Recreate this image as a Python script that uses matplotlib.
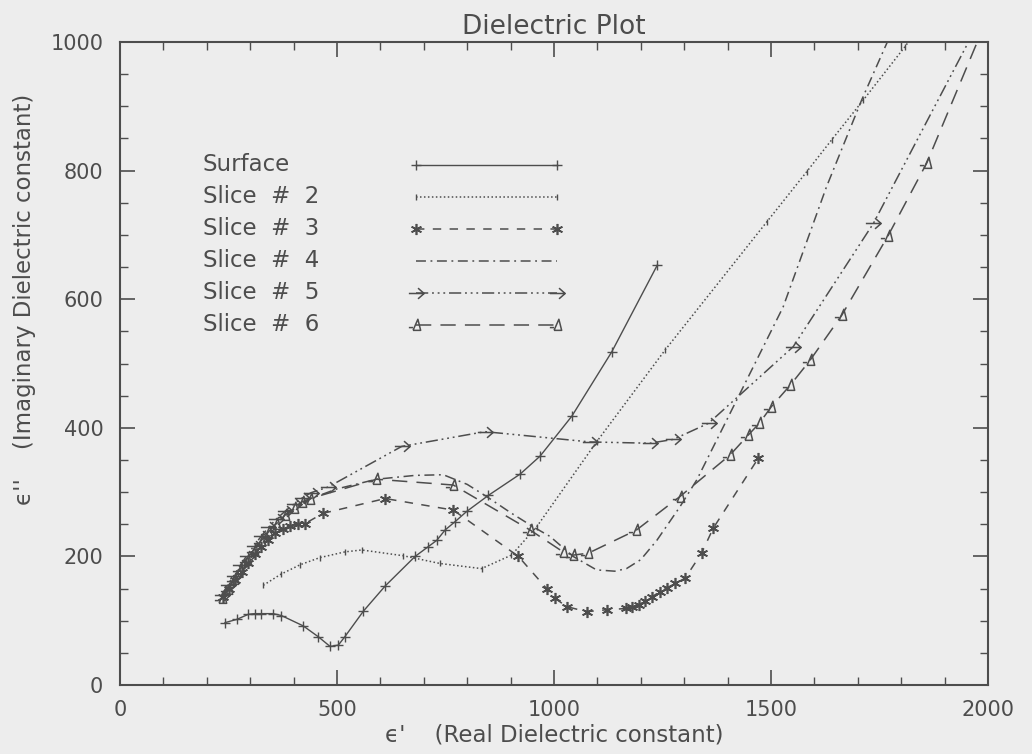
import matplotlib
matplotlib.use("Agg")
import matplotlib.pyplot as plt
from matplotlib.path import Path
from matplotlib.ticker import MultipleLocator

# ---------------- data ----------------
labels = ["Surface", "Slice  #  2", "Slice  #  3", "Slice  #  4", "Slice  #  5", "Slice  #  6"]

surface_x = [242, 269, 296, 311, 326, 353, 372, 422, 457, 484, 503, 518, 561, 611, 680,
             710, 730, 749, 772, 799, 849, 922, 968, 1041, 1133, 1238]
surface_y = [97, 102, 110, 111, 111, 111, 108, 92, 75, 60, 62, 75, 115, 154, 200,
             215, 225, 241, 254, 270, 295, 328, 356, 418, 518, 653]

slice2_x = [330, 370, 415, 460, 518, 557, 653, 737, 833, 902, 960, 1098, 1256, 1490,
            1582, 1640, 1713, 1809, 1840]
slice2_y = [155, 172, 187, 198, 207, 210, 201, 189, 181, 202, 246, 378, 521, 720,
            798, 848, 910, 993, 1022]

slice3_x = [238, 252, 266, 280, 295, 310, 326, 342, 358, 375, 392, 410, 426, 468, 611,
            768, 918, 983, 1002, 1029, 1075, 1121, 1167, 1180, 1195, 1210, 1225, 1244,
            1260, 1279, 1302, 1340, 1367, 1471]
slice3_y = [137, 150, 163, 176, 190, 203, 215, 226, 236, 243, 247, 250, 251, 267, 290,
            272, 200, 150, 135, 122, 114, 117, 119, 121, 125, 130, 137, 145,
            151, 158, 166, 205, 244, 353]

slice4_x = [234, 260, 290, 320, 350, 380, 410, 440, 500, 591, 680, 745, 800, 845, 900,
            952, 991, 1044, 1098, 1140, 1167, 1200, 1237, 1290, 1329, 1429, 1528, 1628,
            1709, 1770, 1790]
slice4_y = [137, 165, 195, 220, 245, 262, 278, 290, 305, 320, 326, 327, 312, 293, 268,
            246, 231, 200, 179, 177, 181, 195, 225, 277, 319, 454, 588, 775,
            910, 1003, 1040]

slice5_x = [234, 248, 262, 277, 292, 308, 325, 342, 360, 380, 400, 420, 440, 480, 649,
            841, 1083, 1221, 1275, 1356, 1551, 1736, 1986]
slice5_y = [140, 155, 170, 186, 201, 216, 231, 245, 258, 270, 281, 291, 299, 308, 371,
            394, 378, 376, 382, 407, 526, 718, 1040]

slice6_x = [234, 248, 262, 277, 292, 308, 325, 342, 360, 380, 400, 420, 438, 591, 768,
            945, 1021, 1044, 1079, 1190, 1290, 1406, 1448, 1473, 1501, 1544, 1590, 1663,
            1770, 1859, 2000]
slice6_y = [135, 150, 165, 180, 195, 210, 224, 238, 251, 264, 276, 285, 290, 320, 311,
            241, 207, 202, 205, 241, 293, 358, 389, 407, 433, 466, 505, 575,
            699, 812, 1040]

x_ticks = [0, 500, 1000, 1500, 2000]
y_ticks = [0, 200, 400, 600, 800, 1000]

# ---------------- styling ----------------
INK = "#4d4d4d"
BG = "#ededed"
plt.rcParams["font.family"] = ["DejaVu Sans"]

arrow_marker = Path([(-1.0, 0.0), (1.0, 0.0), (0.2, 0.7), (1.0, 0.0), (0.2, -0.7)],
                    [Path.MOVETO, Path.LINETO, Path.MOVETO, Path.LINETO, Path.LINETO])
tri_marker = Path([(-1.1, -0.3), (-0.5, -0.3), (-0.5, -0.7), (0.6, -0.7), (0.2, 0.9), (-0.5, -0.7)],
                  [Path.MOVETO, Path.LINETO, Path.MOVETO, Path.LINETO, Path.LINETO, Path.LINETO])

series = [
    (surface_x, surface_y, dict(ls="-", lw=1.0, marker="+", ms=7, mew=1.0)),
    (slice2_x, slice2_y, dict(ls=(0, (1.0, 1.6)), lw=1.1, marker="|", ms=4, mew=1.0)),
    (slice3_x, slice3_y, dict(ls=(0, (5.5, 5.5)), lw=1.1, marker=(6, 2, 0), ms=8, mew=1.2)),
    (slice4_x, slice4_y, dict(ls=(0, (6.5, 3, 1.2, 3)), lw=1.1, marker=None)),
    (slice5_x, slice5_y, dict(ls=(0, (8, 2.5, 1.2, 2.5, 1.2, 2.5, 1.2, 2.5)), lw=1.1,
                              marker=arrow_marker, ms=11, mew=1.1, mfc="none")),
    (slice6_x, slice6_y, dict(ls=(0, (10, 6)), lw=1.1, marker=tri_marker, ms=11,
                              mew=1.1, mfc="none")),
]

fig = plt.figure(figsize=(10.32, 7.54), dpi=100, facecolor=BG)
ax = fig.add_axes([120 / 1032, 69 / 754, 868 / 1032, 643 / 754])
ax.set_facecolor(BG)

for (xs, ys, st) in series:
    ax.plot(xs, ys, color=INK, **st)

ax.set_xlim(0, 2000)
ax.set_ylim(0, 1000)
ax.xaxis.set_major_locator(MultipleLocator(500))
ax.xaxis.set_minor_locator(MultipleLocator(100))
ax.yaxis.set_major_locator(MultipleLocator(200))
ax.yaxis.set_minor_locator(MultipleLocator(50))
ax.set_xticks(x_ticks)
ax.set_yticks(y_ticks)
ax.set_xticklabels([str(v) for v in x_ticks])
ax.set_yticklabels([str(v) for v in y_ticks])
ax.tick_params(which="both", direction="in", top=True, right=True, colors=INK,
               labelcolor=INK, labelsize=15)
ax.tick_params(which="major", length=11, width=1.2)
ax.tick_params(which="minor", length=6, width=1.0)
ax.tick_params(axis="x", which="major", pad=11)
ax.tick_params(axis="y", which="major", pad=12)
for sp in ax.spines.values():
    sp.set_color(INK)
    sp.set_linewidth(1.5)

ax.set_title("Dielectric Plot", fontsize=19, color=INK, pad=6)
ax.set_xlabel("ϵ'    (Real Dielectric constant)", fontsize=16.5, color=INK, labelpad=2)
ax.set_ylabel("ϵ''    (Imaginary Dielectric constant)", fontsize=16.5, color=INK)
ax.yaxis.set_label_coords(-0.097, 0.60)

# hand-drawn legend (left-aligned labels, line samples to the right)
row0, drow = 0.809, 0.0498
for i, (lab, (xs, ys, st)) in enumerate(zip(labels, series)):
    yy = row0 - i * drow
    ax.text(0.0956, yy, lab, transform=ax.transAxes, fontsize=16.5, color=INK,
            va="center", ha="left")
    ax.plot([0.341, 0.503], [yy, yy], transform=ax.transAxes, color=INK, clip_on=False, **st)

fig.savefig("out.png", dpi=100, facecolor=BG)
